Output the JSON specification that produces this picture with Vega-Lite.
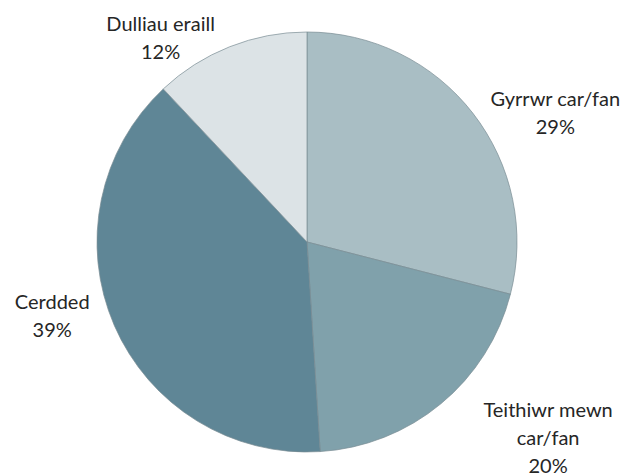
{
  "$schema": "https://vega.github.io/schema/vega-lite/v6.json",
  "width": 614,
  "height": 468,
  "autosize": {"type": "none"},
  "padding": {"left": 0, "right": 17, "top": 8, "bottom": 0},
  "background": "white",
  "view": {"stroke": null},
  "data": {
    "values": [
      {"k": 1, "cat": "Gyrrwr car/fan", "value": 29, "label": "Gyrrwr car/fan\n29%"},
      {"k": 2, "cat": "Teithiwr mewn car/fan", "value": 20, "label": "Teithiwr mewn\ncar/fan\n20%"},
      {"k": 3, "cat": "Cerdded", "value": 39, "label": "Cerdded\n39%"},
      {"k": 4, "cat": "Dulliau eraill", "value": 12, "label": "Dulliau eraill\n12%"}
    ]
  },
  "encoding": {
    "theta": {"field": "value", "type": "quantitative", "stack": true},
    "order": {"field": "k", "type": "quantitative"}
  },
  "layer": [
    {
      "mark": {"type": "arc", "radius": 210, "stroke": "#7a8c93", "strokeWidth": 0.7},
      "encoding": {
        "color": {
          "field": "cat",
          "type": "nominal",
          "scale": {
            "domain": ["Gyrrwr car/fan", "Teithiwr mewn car/fan", "Cerdded", "Dulliau eraill"],
            "range": ["#a9bec4", "#80a1ab", "#5f8696", "#dce3e6"]
          },
          "legend": null
        }
      }
    },
    {
      "mark": {"type": "text", "radius": 270, "dx": 35, "dy": 23, "font": "Lato", "fontSize": 20, "fill": "#262626", "lineBreak": "\n", "lineHeight": 28, "align": "center", "baseline": "middle"},
      "encoding": {"text": {"condition": {"test": "datum.k === 1", "field": "label"}, "value": ""}}
    },
    {
      "mark": {"type": "text", "radius": 270, "dx": 69, "dy": -39, "font": "Lato", "fontSize": 20, "fill": "#262626", "lineBreak": "\n", "lineHeight": 28, "align": "center", "baseline": "middle"},
      "encoding": {"text": {"condition": {"test": "datum.k === 2", "field": "label"}, "value": ""}}
    },
    {
      "mark": {"type": "text", "radius": 270, "dx": -7, "dy": -46, "font": "Lato", "fontSize": 20, "fill": "#262626", "lineBreak": "\n", "lineHeight": 28, "align": "center", "baseline": "middle"},
      "encoding": {"text": {"condition": {"test": "datum.k === 3", "field": "label"}, "value": ""}}
    },
    {
      "mark": {"type": "text", "radius": 270, "dx": -47, "dy": 34, "font": "Lato", "fontSize": 20, "fill": "#262626", "lineBreak": "\n", "lineHeight": 28, "align": "center", "baseline": "middle"},
      "encoding": {"text": {"condition": {"test": "datum.k === 4", "field": "label"}, "value": ""}}
    }
  ]
}
